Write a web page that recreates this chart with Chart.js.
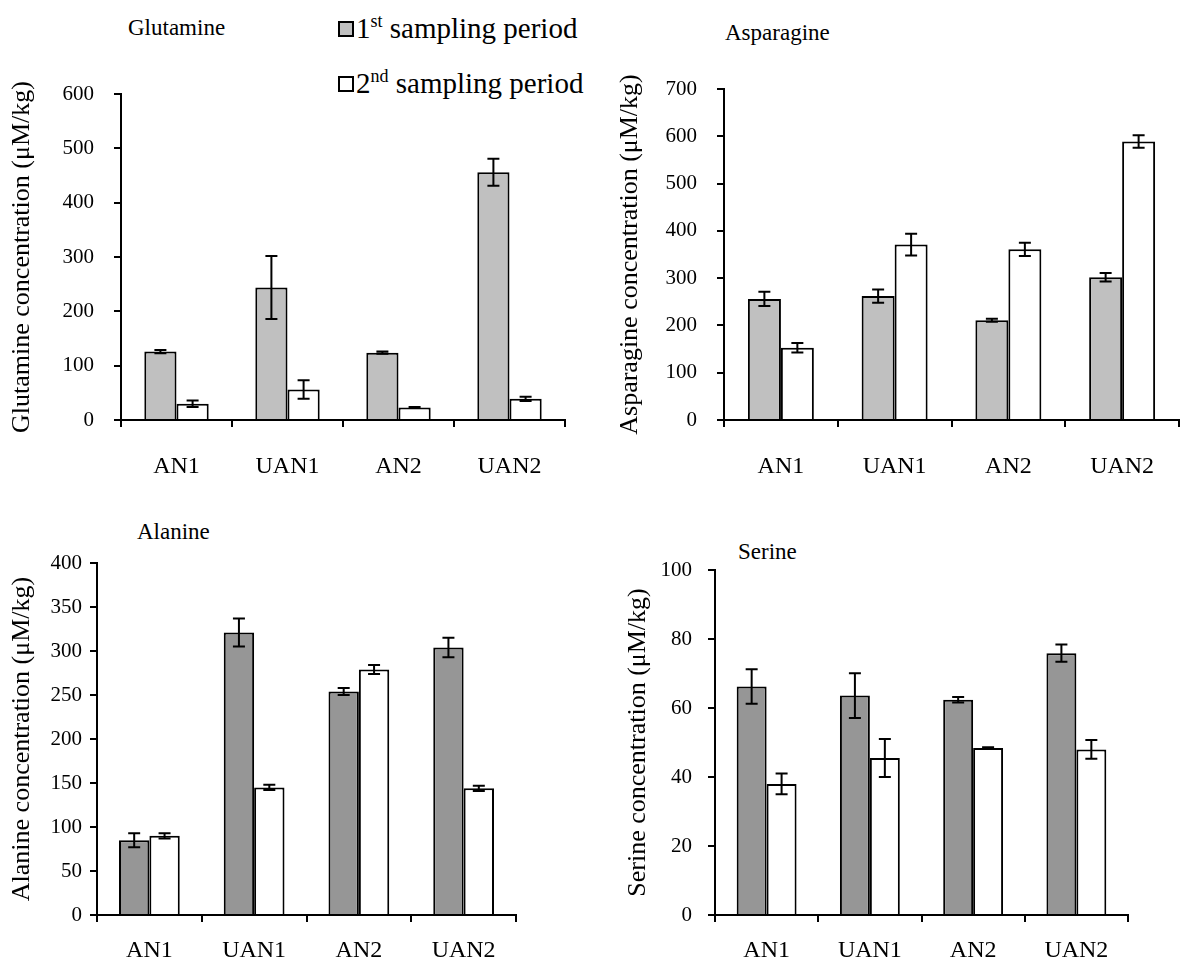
<!DOCTYPE html>
<html><head><meta charset="utf-8">
<script src="https://cdn.jsdelivr.net/npm/chart.js@4.4.1/dist/chart.umd.min.js"></script>
<style>
html,body{margin:0;padding:0;background:#fff;}
body{width:1190px;height:971px;position:relative;overflow:hidden;font-family:'Liberation Serif',serif;color:#000;}
canvas{position:absolute;}
.t{position:absolute;font-size:23px;line-height:24px;white-space:nowrap;}
.lg{position:absolute;font-size:29px;line-height:28px;white-space:nowrap;}
.lg sup{font-size:18px;vertical-align:11px;line-height:0;}
.sw{position:absolute;width:12px;height:12px;border:2px solid #000;}
</style></head><body>
<div class="t" style="left:128px;top:16px;">Glutamine</div>
<div class="t" style="left:725px;top:21px;">Asparagine</div>
<div class="t" style="left:137px;top:520px;">Alanine</div>
<div class="t" style="left:738px;top:540px;">Serine</div>
<div class="sw" style="left:338px;top:21px;background:#c0c0c0;"></div>
<div class="lg" style="left:356px;top:14px;">1<sup>st</sup> sampling period</div>
<div class="sw" style="left:338px;top:76px;background:#fff;"></div>
<div class="lg" style="left:356px;top:69px;">2<sup>nd</sup> sampling period</div>
<canvas id="c1" width="595" height="486" style="left:0;top:0;"></canvas>
<canvas id="c2" width="595" height="486" style="left:595px;top:0;"></canvas>
<canvas id="c3" width="595" height="485" style="left:0;top:486px;"></canvas>
<canvas id="c4" width="595" height="485" style="left:595px;top:486px;"></canvas>
<script>
const categories = ['AN1', 'UAN1', 'AN2', 'UAN2'];
const seriesNames = ['1st sampling period', '2nd sampling period'];

const glutamine1 = [126, 244, 124, 456];
const glutamine1Err = [3, 58, 2, 25];
const glutamine2 = [30, 56, 23, 39];
const glutamine2Err = [6, 17, 1, 4];

const asparagine1 = [256, 262, 211, 302];
const asparagine1Err = [15, 14, 3, 9];
const asparagine2 = [153, 371, 361, 589];
const asparagine2Err = [10, 23, 14, 13];

const alanine1 = [85, 321, 254, 304];
const alanine1Err = [8, 16, 4, 11];
const alanine2 = [90, 145, 279, 144];
const alanine2Err = [3, 3, 5, 3];

const serine1 = [66.2, 63.6, 62.4, 75.9];
const serine1Err = [5, 6.5, 0.8, 2.5];
const serine2 = [38, 45.5, 48.4, 48];
const serine2Err = [3, 5.5, 0.2, 2.7];

const yTitles = ['Glutamine concentration (μM/kg)', 'Asparagine concentration (μM/kg)',
                 'Alanine concentration (μM/kg)', 'Serine concentration (μM/kg)'];
const yMaxes = [600, 700, 400, 100];
const ySteps = [100, 100, 50, 20];

const FONT = "'Liberation Serif', serif";

const errorBars = {
  id: 'errorBars',
  afterDatasetsDraw(chart) {
    const ctx = chart.ctx;
    const y = chart.scales.y;
    ctx.save();
    ctx.strokeStyle = '#000';
    ctx.lineWidth = 2;
    chart.data.datasets.forEach((ds, di) => {
      const meta = chart.getDatasetMeta(di);
      meta.data.forEach((bar, i) => {
        const v = ds.data[i], e = ds.errors[i];
        const x = bar.x;
        const y1 = y.getPixelForValue(v + e), y2 = y.getPixelForValue(v - e);
        const cap = 6;
        ctx.beginPath();
        ctx.moveTo(x, y1); ctx.lineTo(x, y2);
        ctx.moveTo(x - cap, y1); ctx.lineTo(x + cap, y1);
        ctx.moveTo(x - cap, y2); ctx.lineTo(x + cap, y2);
        ctx.stroke();
      });
    });
    ctx.restore();
  }
};

function makeChart(id, box, g, idx, d1, e1, d2, e2, fill1) {
  const titleSize = 26;
  const lh = titleSize * 1.2;
  const scaleLeft = g.titleX - lh / 2;
  const yw = g.axisX - scaleLeft;
  const xh = 62;
  new Chart(document.getElementById(id), {
    type: 'bar',
    data: {
      labels: categories,
      datasets: [
        { label: seriesNames[0], data: d1, errors: e1, backgroundColor: fill1, borderColor: '#000', borderWidth: 2 },
        { label: seriesNames[1], data: d2, errors: e2, backgroundColor: '#ffffff', borderColor: '#000', borderWidth: 2 }
      ]
    },
    options: {
      responsive: false,
      animation: false,
      devicePixelRatio: 1,
      layout: { padding: {
        left: scaleLeft - box.x,
        top: g.top - box.y,
        right: box.x + box.w - g.right,
        bottom: box.y + box.h - g.bottom - xh
      } },
      datasets: { bar: { barPercentage: 1.0, categoryPercentage: 0.58 } },
      plugins: { legend: { display: false }, tooltip: { enabled: false } },
      scales: {
        x: {
          afterFit(s) { s.height = xh; },
          grid: { display: true, drawOnChartArea: false, drawTicks: true, tickLength: 7, color: '#000', lineWidth: 2, offset: true },
          border: { display: true, color: '#000', width: 2 },
          ticks: { color: '#000', font: { family: FONT, size: 24 }, padding: g.xPad }
        },
        y: {
          min: 0, max: yMaxes[idx],
          afterFit(s) { s.width = yw; },
          grid: { display: true, drawOnChartArea: false, drawTicks: true, tickLength: 7, color: '#000', lineWidth: 2 },
          border: { display: true, color: '#000', width: 2 },
          ticks: { stepSize: ySteps[idx], color: '#000', font: { family: FONT, size: 21 }, padding: g.yPad },
          title: { display: true, text: yTitles[idx], color: '#000', font: { family: FONT, size: titleSize }, padding: 0 }
        }
      }
    },
    plugins: [errorBars]
  });
}

makeChart('c1', {x:0, y:0, w:595, h:486}, {axisX:121, top:94, bottom:420, right:565, titleX:22, yPad:20, xPad:25}, 0,
  glutamine1, glutamine1Err, glutamine2, glutamine2Err, '#c0c0c0');
makeChart('c2', {x:595, y:0, w:595, h:486}, {axisX:724, top:89, bottom:420, right:1179, titleX:630, yPad:20, xPad:25}, 1,
  asparagine1, asparagine1Err, asparagine2, asparagine2Err, '#c0c0c0');
makeChart('c3', {x:0, y:486, w:595, h:485}, {axisX:97, top:563, bottom:915, right:516, titleX:22, yPad:8, xPad:14}, 2,
  alanine1, alanine1Err, alanine2, alanine2Err, '#969696');
makeChart('c4', {x:595, y:486, w:595, h:485}, {axisX:715, top:570, bottom:915, right:1128, titleX:638, yPad:16, xPad:14}, 3,
  serine1, serine1Err, serine2, serine2Err, '#969696');
</script>
</body></html>
